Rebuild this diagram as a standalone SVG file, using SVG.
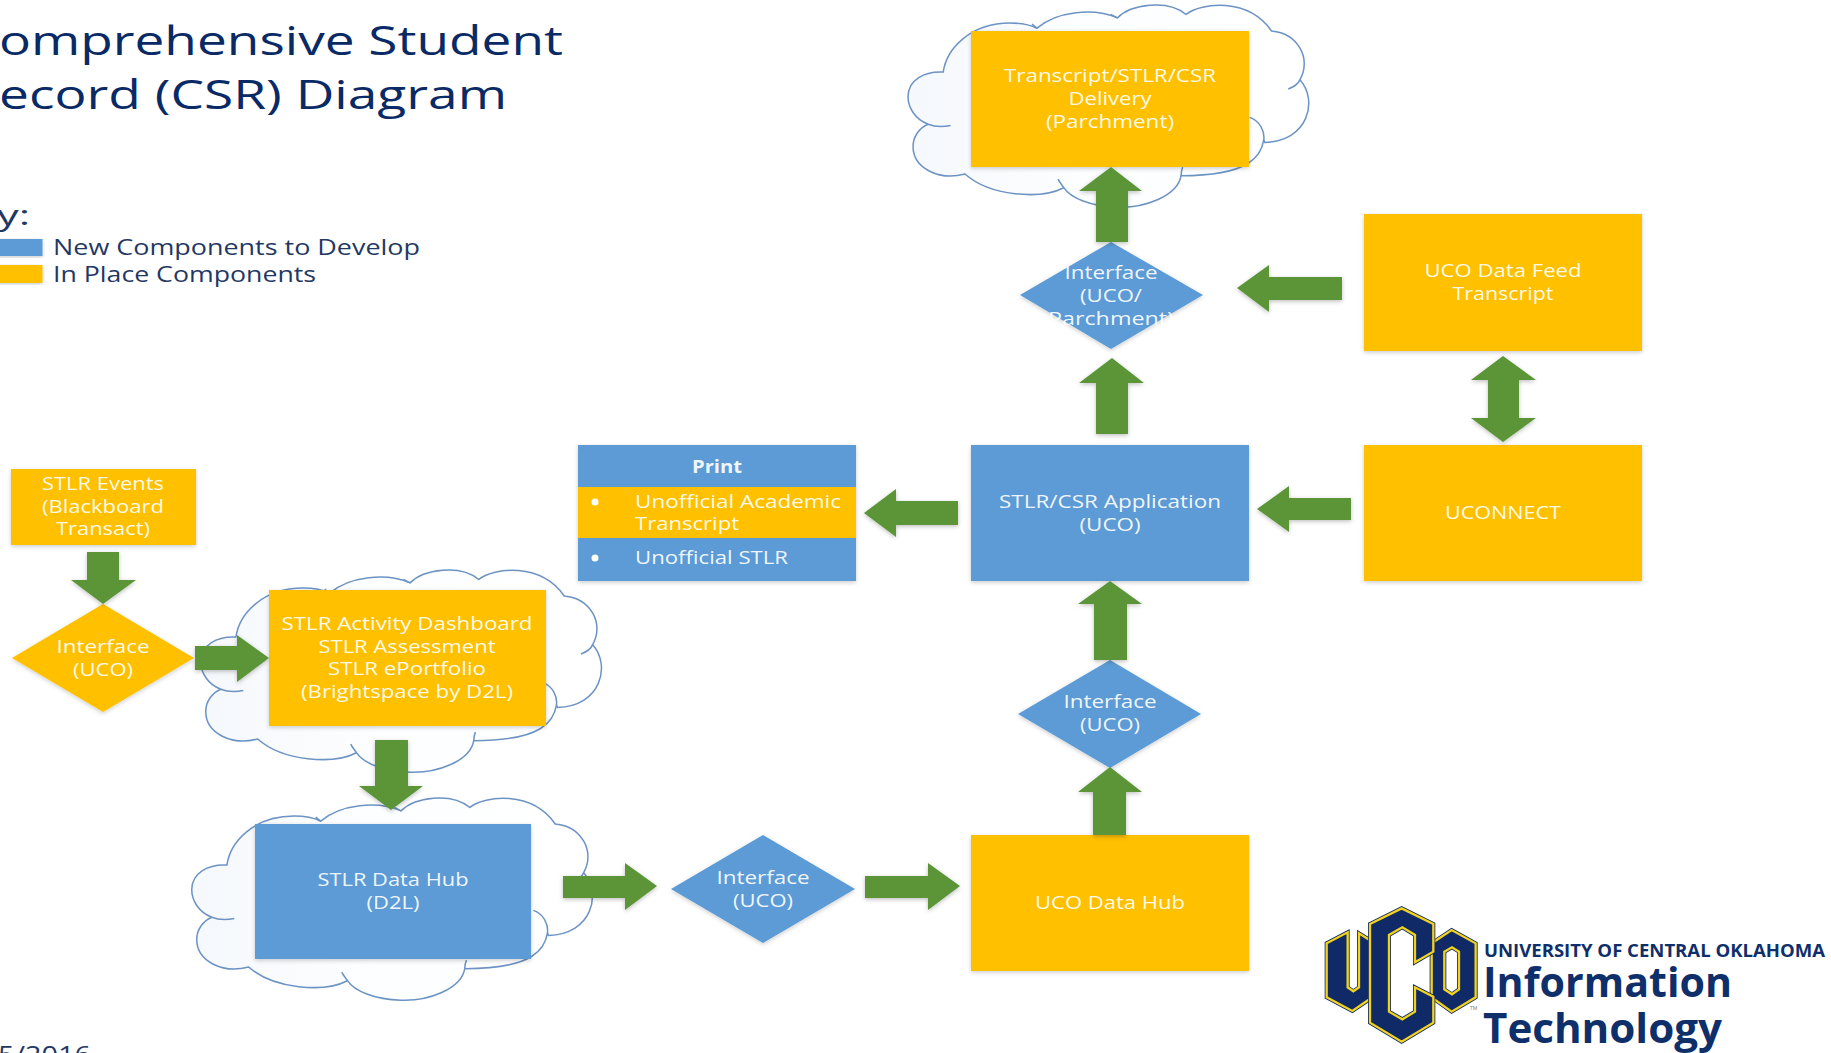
<svg xmlns="http://www.w3.org/2000/svg" xmlns:xlink="http://www.w3.org/1999/xlink" width="1831" height="1053" viewBox="0 0 1831 1053">
<style>
text{font-family:"Open Sans","Liberation Sans",sans-serif}
.t{fill:#fff;font-size:18.5px;text-anchor:middle;fill-opacity:.93}
.l{fill:#fff;font-size:18.5px;fill-opacity:.93}
.o{fill:#FFC000;filter:url(#sh)}
.b{fill:#5B9BD5;filter:url(#sh)}
.a{fill:#5B9539;filter:url(#sa)}
.h{fill:#0A2A66;font-size:40.5px}
.k{fill:#1F3864;font-size:22px}
.cl{fill:url(#cg);stroke:#6C93C4;stroke-width:4.500;stroke-linejoin:round}
.cs{fill:none;stroke:#6C93C4;stroke-width:4.500}
.lo{fill:#0F2A66;stroke:#0F2A66;stroke-width:12;stroke-linejoin:miter;fill-rule:evenodd}
.ly{fill:#0F2A66;stroke:#F2D21F;stroke-width:7;stroke-linejoin:miter;fill-rule:evenodd}
.lt{fill:#0F2F6B;font-weight:700}
</style>
<defs>
<filter id="sh" x="-5%" y="-5%" width="110%" height="112%"><feDropShadow dx="0" dy="1.5" stdDeviation="2" flood-color="#000" flood-opacity=".2"/></filter>
<filter id="sa" x="-15%" y="-15%" width="130%" height="130%"><feDropShadow dx="0" dy="1.5" stdDeviation="2" flood-color="#000" flood-opacity=".25"/></filter>
<linearGradient id="cg" x1="0" y1="0" x2="1" y2="0"><stop offset="0" stop-color="#F5F8FC"/><stop offset=".45" stop-color="#FDFEFF"/><stop offset="1" stop-color="#FFFFFF"/></linearGradient>
<g id="cloud">
<path class="cl" d="M140 228C150 160 220 85 340 85C370 85 400 90 420 100C480 50 590 40 660 70C700 30 810 15 865 60C910 25 1050 10 1120 108C1200 115 1240 190 1205 250C1260 310 1230 430 1100 433L1097 425C1090 470 1060 530 850 530C840 590 740 625 660 622C580 620 520 595 500 565C430 600 280 590 205 525C130 545 50 510 50 445C50 415 70 390 95 380C55 365 35 330 35 300C35 250 85 225 140 228Z"/>
<path class="cs" d="M1205 250C1200 262 1185 272 1170 277M1055 360C1085 370 1100 400 1097 425M95 380C115 388 140 388 162 384M500 565C495 558 487 550 483 540M850 530C850 520 852 512 855 505M660 70L640 60M420 100L405 88"/>
</g>
<g id="lettersU"><path d="M35 130L98 97V262L115 274L132 262V100L172 125V292L112 333L35 292Z"/></g>
<g id="lettersO"><path d="M350 130L410 90L482 130V292L410 335L350 292ZM388 155L411 142L432 155V268L411 283L388 268Z"/></g>
<g id="lettersC"><path d="M165 72L260 25L355 72V155L300 187V105L262 82L222 105V335L262 358L300 335V262L355 290V368L260 425L165 368Z"/></g>
</defs>
<rect width="1831" height="1053" fill="#fff"/>

<g id="title">
<text class="h" x="-1" y="55" textLength="564" lengthAdjust="spacingAndGlyphs">omprehensive Student</text>
<text class="h" x="-1" y="109" textLength="508" lengthAdjust="spacingAndGlyphs">ecord (CSR) Diagram</text>
</g>
<g id="legend">
<text x="-3" y="225" textLength="33" lengthAdjust="spacingAndGlyphs" style="fill:#1F3864;font-size:27px">y:</text>
<rect class="b" x="-5" y="239" width="47.500" height="17"/>
<rect class="o" x="-5" y="265" width="47.500" height="18"/>
<text class="k" x="53" y="255" textLength="367" lengthAdjust="spacingAndGlyphs">New Components to Develop</text>
<text class="k" x="53" y="282" textLength="263" lengthAdjust="spacingAndGlyphs">In Place Components</text>
</g>
<g id="date"><text x="-2" y="1063" textLength="93" lengthAdjust="spacingAndGlyphs" style="fill:#1F3864;font-size:24px">5/2016</text></g>

<g id="node-stlr-events">
<rect class="o" x="11" y="469" width="185" height="76"/>
<text class="t" x="103" y="490" textLength="122" lengthAdjust="spacingAndGlyphs">STLR Events</text>
<text class="t" x="103" y="513" textLength="122" lengthAdjust="spacingAndGlyphs">(Blackboard</text>
<text class="t" x="103" y="535" textLength="94" lengthAdjust="spacingAndGlyphs">Transact)</text>
</g>
<g id="node-interface-orange">
<polygon class="o" points="12,658 103,604 194,658 103,712"/>
<text class="t" x="103" y="653" textLength="93" lengthAdjust="spacingAndGlyphs">Interface</text>
<text class="t" x="103" y="676" textLength="60" lengthAdjust="spacingAndGlyphs">(UCO)</text>
</g>
<g id="node-stlr-activity">
<use href="#cloud" transform="translate(189 558.900) scale(.335 .343)"/>
<rect class="o" x="269" y="590" width="277" height="136"/>
<text class="t" x="407" y="630" textLength="251" lengthAdjust="spacingAndGlyphs">STLR Activity Dashboard</text>
<text class="t" x="407" y="653" textLength="177" lengthAdjust="spacingAndGlyphs">STLR Assessment</text>
<text class="t" x="407" y="675" textLength="158" lengthAdjust="spacingAndGlyphs">STLR ePortfolio</text>
<text class="t" x="407" y="698" textLength="212" lengthAdjust="spacingAndGlyphs">(Brightspace by D2L)</text>
</g>
<g id="node-stlr-data-hub">
<use href="#cloud" transform="translate(180 786.900) scale(.335 .343)"/>
<rect class="b" x="255" y="824" width="276" height="135"/>
<text class="t" x="393" y="886" textLength="151" lengthAdjust="spacingAndGlyphs">STLR Data Hub</text>
<text class="t" x="393" y="909" textLength="53" lengthAdjust="spacingAndGlyphs">(D2L)</text>
</g>
<g id="node-interface-bottom">
<polygon class="b" points="671,889 763,835 855,889 763,943"/>
<text class="t" x="763" y="884" textLength="93" lengthAdjust="spacingAndGlyphs">Interface</text>
<text class="t" x="763" y="907" textLength="60" lengthAdjust="spacingAndGlyphs">(UCO)</text>
</g>
<g id="node-uco-data-hub">
<rect class="o" x="971" y="835" width="278" height="136"/>
<text class="t" x="1110" y="909" textLength="150" lengthAdjust="spacingAndGlyphs">UCO Data Hub</text>
</g>
<g id="node-interface-mid">
<polygon class="b" points="1018,714 1110,660 1201,714 1110,768"/>
<text class="t" x="1110" y="708" textLength="93" lengthAdjust="spacingAndGlyphs">Interface</text>
<text class="t" x="1110" y="731" textLength="60" lengthAdjust="spacingAndGlyphs">(UCO)</text>
</g>
<g id="node-application">
<rect class="b" x="971" y="445" width="278" height="136"/>
<text class="t" x="1110" y="508" textLength="222" lengthAdjust="spacingAndGlyphs">STLR/CSR Application</text>
<text class="t" x="1110" y="531" textLength="61" lengthAdjust="spacingAndGlyphs">(UCO)</text>
</g>
<g id="node-print">
<rect class="b" x="578" y="445" width="278" height="136"/>
<rect x="578" y="487" width="278" height="51" fill="#FFC000"/>
<text class="t" x="717" y="473" textLength="50" lengthAdjust="spacingAndGlyphs" style="font-weight:700">Print</text>
<circle cx="595" cy="502" r="3.500" fill="#fff"/>
<circle cx="595" cy="558" r="3.500" fill="#fff"/>
<text class="l" x="635" y="508" textLength="206" lengthAdjust="spacingAndGlyphs">Unofficial Academic</text>
<text class="l" x="635" y="530" textLength="104" lengthAdjust="spacingAndGlyphs">Transcript</text>
<text class="l" x="635" y="564" textLength="153" lengthAdjust="spacingAndGlyphs">Unofficial STLR</text>
</g>
<g id="node-uconnect">
<rect class="o" x="1364" y="445" width="278" height="136"/>
<text class="t" x="1503" y="519" textLength="116" lengthAdjust="spacingAndGlyphs">UCONNECT</text>
</g>
<g id="node-data-feed">
<rect class="o" x="1364" y="214" width="278" height="137"/>
<text class="t" x="1503" y="277" textLength="157" lengthAdjust="spacingAndGlyphs">UCO Data Feed</text>
<text class="t" x="1503" y="300" textLength="101" lengthAdjust="spacingAndGlyphs">Transcript</text>
</g>
<g id="node-interface-parchment">
<polygon class="b" points="1020,295 1111,242 1203,295 1111,349"/>
<text class="t" x="1111" y="279" textLength="93" lengthAdjust="spacingAndGlyphs">Interface</text>
<text class="t" x="1111" y="302" textLength="62" lengthAdjust="spacingAndGlyphs">(UCO/</text>
<text class="t" x="1111" y="325" textLength="126" lengthAdjust="spacingAndGlyphs">Parchment)</text>
</g>
<g id="node-delivery">
<use href="#cloud" transform="translate(896.300 -6.100) scale(.335 .343)"/>
<rect class="o" x="971" y="31" width="278" height="136"/>
<text class="t" x="1110" y="82" textLength="212" lengthAdjust="spacingAndGlyphs">Transcript/STLR/CSR</text>
<text class="t" x="1110" y="105" textLength="83" lengthAdjust="spacingAndGlyphs">Delivery</text>
<text class="t" x="1110" y="128" textLength="128" lengthAdjust="spacingAndGlyphs">(Parchment)</text>
</g>

<g id="connectors">
<polygon class="a" points="87,552 119,552 119,580 136,580 103,604 71,580 87,580"/>
<polygon class="a" points="195,646 237,646 237,635 269,658 237,682 237,670 195,670"/>
<polygon class="a" points="375,740 408,740 408,786 423,786 391,810 359,786 375,786"/>
<polygon class="a" points="563,876 625,876 625,863 657,886 625,910 625,898 563,898"/>
<polygon class="a" points="865,876 928,876 928,863 960,886 928,910 928,898 865,898"/>
<polygon class="a" points="1093,835 1126,835 1126,792 1142,792 1110,767 1078,792 1093,792"/>
<polygon class="a" points="1094,660 1127,660 1127,604 1142,604 1110,581 1078,604 1094,604"/>
<polygon class="a" points="958,501 896,501 896,489 864,513 896,537 896,525 958,525"/>
<polygon class="a" points="1351,498 1289,498 1289,486 1257,509 1289,532 1289,520 1351,520"/>
<polygon class="a" points="1096,434 1128,434 1128,383 1144,383 1112,358 1079,383 1096,383"/>
<polygon class="a" points="1342,277 1269,277 1269,265 1237,288 1269,312 1269,300 1342,300"/>
<polygon class="a" points="1096,242 1128,242 1128,191 1142,191 1111,167 1079,191 1096,191"/>
<polygon class="a" points="1503,356 1536,380 1519,380 1519,418 1536,418 1503,442 1471,418 1488,418 1488,380 1471,380"/>
</g>

<g id="logo">
<g transform="translate(1315 900) scale(.3333)">
<use href="#lettersU" class="lo"/><use href="#lettersU" class="ly"/>
<use href="#lettersO" class="lo"/><use href="#lettersO" class="ly"/>
<use href="#lettersC" class="lo"/><use href="#lettersC" class="ly"/>
</g>
<text x="1470" y="1010" style="font-size:5px;fill:#777">TM</text>
<text class="lt" x="1484" y="957" textLength="341" lengthAdjust="spacingAndGlyphs" style="font-size:18px">UNIVERSITY OF CENTRAL OKLAHOMA</text>
<text class="lt" x="1483" y="997" textLength="249" lengthAdjust="spacingAndGlyphs" style="font-size:42px">Information</text>
<text class="lt" x="1483" y="1043" textLength="239" lengthAdjust="spacingAndGlyphs" style="font-size:42px">Technology</text>
</g>
</svg>
